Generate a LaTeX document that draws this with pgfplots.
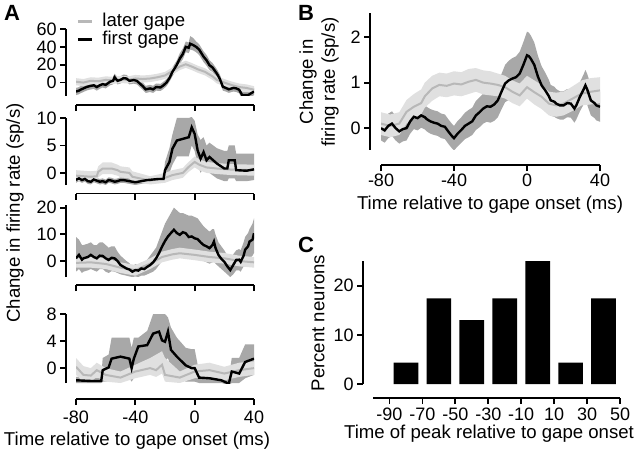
\documentclass[border=0pt]{standalone}
\usepackage{fontspec}
\setmainfont{Liberation Sans}
\usepackage{pgfplots}
\pgfplotsset{compat=1.18}
\usepgfplotslibrary{fillbetween}
\usepackage{pgfplotstable}

\definecolor{darkband}{gray}{0.66}
\definecolor{lightband}{gray}{0.88}
\definecolor{laterline}{gray}{0.72}

% ---------------- Panel A1 ----------------
\pgfplotstableread{
t m lo hi
-80 -10 -14 -6
-78 -9 -13 -5
-77 -8 -12 -4
-75 -6.5 -10.5 -2.5
-73 -5 -9 -1
-71 -4 -8 0
-68 -3 -7 1
-66 -5 -9 -1
-64 -3 -7 1
-62 -1.7 -5.5 2
-60 -2.5 -6.5 1.5
-57 1 -3 5
-55 2 -2 6
-54 6 2 10
-52 2 -2 6
-50 3 -1 7
-48 5 1 9
-46 4.6 0.6 8.6
-44 2 -2 6
-41 2.8 -1.2 6.8
-39 2 -2 6
-37 -1 -5 3
-35 -4 -8 0
-33 -7.6 -11.6 -3.6
-30 -6.5 -10.5 -2.5
-28 -7.6 -11.6 -3.6
-26 -5 -9 -1
-23 -5.4 -9.4 -1.4
-21 -3 -7 1
-19 0 -4 4
-17 5 1 9
-15 12 7 17
-12 20 15 25
-10 27 21 33
-8 32 26 38
-6 40 34 46
-4 39 33 45
-3 43.5 37 52
-1 42 36 50
1 40 34 46
3 37 31 43
6 29 23 35
8 25 19 31
10 19.4 14 25
12 17 12 22
15 10 5 15
17 4 0 9
19 -4.6 -9 0
21 -6 -10 -2
23 -7.5 -11.5 -3.5
26 -6 -10 -2
28 -6.5 -10.5 -2.5
30 -8 -12 -4
32 -14 -18 -10
36 -14 -18 -10
38 -12 -16 -8
40 -10 -14 -6
}\aFirstA
\pgfplotstableread{
t m lo hi
-80 1 -3 5
-75 0 -4 4
-70 2 -2 6
-65 1.5 -2.5 5.5
-60 3 -1 7
-55 2.5 -1.5 6.5
-50 3.5 -0.5 7.5
-45 3 -1 7
-40 4.6 0.6 8.6
-35 4 0 8
-30 4.6 0.6 8.6
-25 6 2 10
-20 8 4 12
-15 13 9 17
-10 18 14 22
-6 20.5 16.5 24.5
-2 18 14 22
2 15 11 19
7 12 8 16
12 7 3 11
15 3 -1 7
20 0 -4 4
25 -2.8 -6.8 1.2
30 -5 -9 -1
35 -6 -10 -2
40 -8 -12 -4
}\aLaterA

% ---------------- Panel A2 ----------------
\pgfplotstableread{
t m lo hi
-80 -1.25 -1.8 -0.6
-78 -1.0 -1.5 -0.4
-76 -1.3 -1.8 -0.8
-74 -1.1 -1.6 -0.6
-72 -1.5 -2 -1
-70 -1.6 -2.1 -1.1
-68 -1.2 -1.7 -0.7
-66 -1.4 -1.9 -0.9
-64 -1.6 -2.1 -1.1
-62 -1.5 -2 -1
-60 -1.7 -2.2 -1.2
-58 -1.3 -1.8 -0.8
-56 -1.4 -1.9 -0.9
-54 -1.6 -2.1 -1.1
-52 -1.5 -2 -1
-50 -1.3 -1.8 -0.8
-48 -1.3 -1.8 -0.8
-46 -1.4 -1.9 -0.9
-44 -1.5 -2 -1
-42 -1.6 -2.1 -1.1
-40 -1.7 -2.2 -1.2
-38 -1.6 -2.1 -1.1
-36 -1.5 -2 -1
-32 -1.3 -1.8 -0.8
-28 -1.2 -1.7 -0.7
-24 -1.1 -1.6 -0.6
-21 -1.1 -1.6 -0.6
-20 0.5 -0.8 2
-17 2 0 4.5
-15 4.4 1.5 7
-12 5.9 3 10
-8 6.2 3 10
-4 6.5 3 10
-2 8.3 5 10.2
0 7.1 4 9.5
2 4.1 1.5 7
4 2.6 0 6
6 3.8 1 6.5
8 2.3 0 5
10 2.9 0 5.5
15 1.7 -1 4.5
20 0.8 -1.5 4
22 0.8 -1.5 4
23 2.3 -1 5
27 2.3 -1 5
28 0.5 -1.5 3.5
35 0.4 -1.5 3.5
40 0.65 -1.3 3.5
}\aFirstB
\pgfplotstableread{
t m lo hi
-80 -0.5 -1.4 0.5
-70 -0.7 -1.6 0.3
-66 -0.6 -1.5 0.4
-65 0.2 -0.8 1.2
-62 0.8 -0.2 1.9
-56 0.8 -0.2 1.9
-52 0.5 -0.5 1.5
-50 0.2 -0.8 1.2
-44 0 -1 1
-42 -0.7 -1.6 0.3
-30 -1.4 -2.1 -0.6
-20 -0.9 -1.8 0
-15 -0.4 -1.3 0.5
-8 0 -0.9 0.9
-4 1.1 0.2 2
0 2 1 3
3 1.5 0.5 2.5
8 1 0 2
15 0.8 -0.2 1.8
25 0.6 -0.4 1.6
40 0.5 -0.5 1.5
}\aLaterB

% ---------------- Panel A3 ----------------
\pgfplotstableread{
t m lo hi
-80 1 -4 9
-78 2.3 -3 8
-76 0.5 -4.5 6
-75 1 -4 6
-72 1.5 -3.5 6.5
-70 2.3 -3 7
-68 1.5 -3.5 6
-66 1 -4 6
-64 2 -3 7
-62 1.9 -3 7
-60 1 -4 6
-58 0.4 -4.5 5
-56 1.2 -3.8 5.5
-54 1 -4 5.5
-52 0 -4.5 3.5
-50 -1.5 -5 2
-46 -2.8 -5.5 0
-44 -3.2 -5.8 -0.8
-42 -4 -6 -2
-40 -3.4 -5.8 -1.2
-38 -3.6 -6 -1.5
-36 -2.8 -5.5 -0.5
-34 -3 -5.5 -0.5
-32 -2.2 -5 0.5
-30 -1.5 -4.5 2
-28 -0.5 -4 3.5
-26 1 -3 5
-24 3 -1.5 8
-22 5.4 0 11
-20 7.5 1.5 14
-18 9.2 3 16
-16 10.5 3.5 18
-14 11.7 4 20
-12 10.5 3.5 19
-10 9.8 3 18
-8 10.8 3.5 18
-6 10.4 3 17.5
-4 9 2 17
-2 9.2 2 17
0 8.5 1.5 16.5
2 8.2 1 16
4 7 0.5 14.5
6 6 0 13
8 5.5 -0.5 12
10 4.8 -1 11
12 6 -0.5 12
13 7.3 0 12
14 5 -1 10
16 2.3 -2 7
18 0.8 -3 5.5
20 -0.3 -4 4
22 -2 -5 2
24 -3.4 -6 0
26 -1.5 -5 2.5
28 0.4 -3.5 4
30 0.5 -3.5 4.5
31 -0.3 -4 4
33 2 -2 7
34 4.2 -1 9
36 5.5 0 10.5
37 7.3 1 12
39 8 2 14
40 10.4 3 16
}\aFirstC
\pgfplotstableread{
t m lo hi
-80 -0.7 -2.5 1.5
-70 -0.5 -2.5 1.5
-60 -1.1 -3 1
-50 -2.5 -4.5 -0.5
-40 -3.4 -5.5 -1.5
-30 -1 -3 1
-22 1.5 -0.5 3.5
-15 2.5 0.5 4.5
-10 2.9 1 5
0 2.3 0.3 4.3
10 1.5 -0.5 3.5
20 1 -1 3
30 0 -2 2
40 -0.5 -2.5 1.5
}\aLaterC

% ---------------- Panel A4 ----------------
\pgfplotstableread{
t m lo hi
-80 -1.8 -2.2 -1.3
-70 -1.9 -2.2 -1.4
-63 -1.9 -2.2 -1.4
-62 -0.3 -2 1.5
-58 0.1 -2 2
-56 1.4 -1.5 4.5
-50 1.7 -1.5 4.5
-44 1.4 -1.5 4.5
-42.5 0 -2 3
-41 1.4 -1.5 4.5
-38 3.2 -0.5 4.5
-32 3.4 0 5.5
-28 5.1 1.5 8
-24 5.4 1.5 8
-22 4.1 1 8
-20 3.9 1 8
-18 5.4 1.5 7.5
-16 2.7 0 6
-12 1.7 -1 4.5
-6 0.4 -2 3
-2 0 -2 2.8
0 0 -2 2.8
3 -1.4 -2.2 -0.6
10 -1.5 -2.2 -0.7
18 -1.8 -2.2 -1
23 -2.3 -2.5 -1.5
25 -0.5 -2.2 1.5
30 -0.8 -2.2 1.5
34 0.9 -1.5 3.5
40 1.4 -1 3.5
}\aFirstD
\pgfplotstableread{
t m lo hi
-80 0.2 -1 1.5
-75 -1 -2 0.3
-70 -1.1 -2 0
-66 -0.3 -1.3 0.8
-60 -1 -2 0
-50 -1.4 -2.2 -0.5
-40 -0.5 -1.5 0.5
-30 0 -1 1.5
-26 -0.3 -1.3 2
-22 0.5 -0.8 2.5
-20 -1 -2 1.5
-10 -1.4 -2.2 -0.5
0 -0.5 -1.5 0.5
10 -0.3 -1.3 0.8
20 -0.8 -1.8 0.2
30 -0.3 -1.3 0.8
40 0 -1 1
}\aLaterD

% ---------------- Panel B ----------------
\pgfplotstableread{
t m lo hi
-80 0 -0.27 0.3
-78 -0.05 -0.32 0.22
-76 0.05 -0.22 0.32
-74 0.1 -0.17 0.37
-72 0.0 -0.27 0.27
-70 -0.07 -0.34 0.2
-68 -0.02 -0.29 0.25
-66 0 -0.27 0.27
-64 0.15 -0.12 0.42
-62 0.25 -0.02 0.52
-60 0.22 -0.05 0.49
-58 0.28 0.01 0.55
-56 0.24 -0.03 0.51
-55 0.2 -0.07 0.47
-53 0.15 -0.12 0.42
-51 0.12 -0.15 0.39
-49 0.1 -0.17 0.37
-47 0.05 -0.22 0.32
-45 0.03 -0.24 0.3
-43 -0.08 -0.35 0.19
-41 -0.18 -0.45 0.09
-40 -0.22 -0.49 0.05
-38 -0.12 -0.4 0.16
-36 -0.04 -0.32 0.24
-34 0.05 -0.24 0.34
-32 0.1 -0.2 0.4
-30 0.15 -0.15 0.45
-28 0.28 -0.04 0.6
-26 0.35 0.02 0.68
-24 0.43 0.1 0.76
-22 0.48 0.14 0.82
-20 0.47 0.12 0.82
-18 0.52 0.16 0.88
-16 0.61 0.24 0.98
-14 0.8 0.41 1.19
-12 0.98 0.57 1.39
-10 1.05 0.62 1.48
-8 1.09 0.64 1.54
-6 1.12 0.66 1.58
-4 1.2 0.72 1.68
-2 1.39 0.89 1.89
0 1.6 1.08 2.12
1 1.58 1.06 2.1
2 1.53 1.02 2.04
4 1.39 0.9 1.88
6 1.13 0.67 1.59
8 0.94 0.52 1.36
10 0.83 0.44 1.22
12 0.7 0.34 1.06
13 0.61 0.27 0.95
15 0.58 0.25 0.91
16 0.54 0.22 0.86
18 0.5 0.19 0.81
20 0.5 0.19 0.81
22 0.55 0.24 0.86
24 0.54 0.23 0.85
26 0.43 0.12 0.74
27 0.5 0.19 0.81
29 0.69 0.37 1.01
31 0.85 0.52 1.18
32 0.94 0.6 1.28
33 0.85 0.51 1.19
35 0.61 0.28 0.94
37 0.55 0.22 0.88
38 0.5 0.17 0.83
40 0.47 0.14 0.8
}\bFirst
\pgfplotstableread{
t m lo hi
-80 0.1 -0.15 0.35
-75 0.05 -0.2 0.3
-70 0.1 -0.15 0.35
-66 0.36 0.1 0.62
-62 0.47 0.2 0.75
-58 0.55 0.3 0.85
-56 0.7 0.45 1.0
-52 0.87 0.6 1.15
-48 0.95 0.7 1.22
-44 0.93 0.68 1.2
-40 0.98 0.72 1.25
-36 0.96 0.7 1.23
-32 1.02 0.75 1.3
-28 1.06 0.8 1.32
-24 1.0 0.74 1.27
-20 0.98 0.72 1.25
-16 0.95 0.7 1.2
-12 0.9 0.65 1.15
-8 0.8 0.55 1.05
-4 0.72 0.48 0.98
0 0.9 0.65 1.15
4 0.79 0.52 1.05
8 0.69 0.42 0.95
12 0.54 0.28 0.8
16 0.5 0.25 0.78
20 0.54 0.28 0.8
25 0.65 0.38 0.92
30 0.76 0.5 1.05
35 0.8 0.52 1.1
40 0.83 0.55 1.12
}\bLater

\pgfplotsset{
  panel/.style={
    scale only axis, anchor=south west,
    axis x line*=bottom, axis y line*=left,
    tick align=outside, major tick length=3pt,
    every tick/.style={black, line width=0.9pt},
    axis line style={line width=0.9pt},
    tick label style={font=\fontsize{9}{10}\selectfont, inner sep=1.5pt},
    /pgf/number format/assume math mode=true,
    clip=true,
  },
  apanel/.style={panel, xmin=-80, xmax=40, xtick={-80,-40,0,40}, width=89pt},
}

% #1 prefix, #2 first table, #3 later table
\newcommand{\bands}[3]{%
  \addplot[name path=#1fu, draw=none, forget plot] table[x=t,y=hi] {#2};
  \addplot[name path=#1fl, draw=none, forget plot] table[x=t,y=lo] {#2};
  \addplot[fill=darkband, draw=none, forget plot] fill between[of=#1fu and #1fl];
  \addplot[name path=#1lu, draw=none, forget plot] table[x=t,y=hi] {#3};
  \addplot[name path=#1ll, draw=none, forget plot] table[x=t,y=lo] {#3};
  \addplot[fill=lightband, draw=none, forget plot] fill between[of=#1lu and #1ll];
  \addplot[laterline, line width=1pt, forget plot] table[x=t,y=m] {#3};
  \addplot[black, line width=1.2pt, forget plot] table[x=t,y=m] {#2};
}

\begin{document}
\begin{tikzpicture}

% A1
\begin{axis}[apanel, at={(38pt,177pt)}, height=33.5pt,
  ymin=-15, ymax=60, ytick={0,20,40,60}, xticklabels={},
  axis x line shift=4.5pt, axis y line shift=5pt,
  legend style={draw=none, fill=none, at={(axis description cs:0.0,1.27)}, anchor=north west,
    font=\fontsize{9.3}{9}\selectfont, inner sep=0pt, row sep=-1.5pt, column sep=3.5pt,
    nodes={inner sep=1pt}},
  legend cell align=left,
  legend image code/.code={\draw[#1] (0pt,0pt) -- (7pt,0pt);},
]
\addlegendimage{laterline, line width=1.5pt}
\addlegendentry{later gape}
\addlegendimage{black, line width=1.5pt}
\addlegendentry{first gape}
\bands{a}{\aFirstA}{\aLaterA}
\end{axis}

% A2
\begin{axis}[apanel, at={(38pt,132.5pt)}, height=33.5pt,
  ymin=-2.2, ymax=10, ytick={0,5,10}, xticklabels={},
  axis x line shift=4.25pt, axis y line shift=5pt]
\bands{b}{\aFirstB}{\aLaterB}
\end{axis}

% A3
\begin{axis}[apanel, at={(38pt,86.5pt)}, height=36pt,
  ymin=-6, ymax=21, ytick={0,10,20}, xticklabels={},
  axis x line shift=4pt, axis y line shift=5pt]
\bands{c}{\aFirstC}{\aLaterC}
\end{axis}

% A4
\begin{axis}[apanel, at={(38pt,33.5pt)}, height=34.5pt,
  ymin=-2.2, ymax=8, ytick={0,4,8},
  axis x line shift=8pt, axis y line shift=5pt,
  xticklabel style={yshift=-1.5pt}]
\bands{d}{\aFirstD}{\aLaterD}
\end{axis}

% B
\begin{axis}[panel, at={(190.5pt,150pt)}, width=109.5pt, height=68.5pt,
  xmin=-80, xmax=40, xtick={-80,-40,0,40},
  ymin=-0.48, ymax=2.53, ytick={0,1,2},
  axis x line shift=7.5pt, axis y line shift=5.5pt]
\bands{e}{\bFirst}{\bLater}
\end{axis}

% C
\begin{axis}[panel, at={(186.5pt,33pt)}, width=123.5pt, height=61.5pt,
  xmin=-100, xmax=50, xtick={-90,-70,...,50},
  ymin=0, ymax=25, ytick={0,10,20},
  axis x line shift=7pt, axis y line shift=5pt,
  xticklabel style={yshift=-1.5pt, inner sep=0.5pt}]
\addplot[ybar, bar width=15, fill=black, draw=none] coordinates {
(-80,4.35) (-60,17.4) (-40,13.0) (-20,17.4) (0,25) (20,4.35) (40,17.4)};
\end{axis}

% labels
\begin{scope}[font=\fontsize{9.3}{11}\selectfont]
\node[rotate=90] at (7.5pt,118.5pt) {Change in firing rate (sp/s)};
\node at (68.5pt,4.5pt) {Time relative to gape onset (ms)};
\node[rotate=90, align=center, inner sep=0pt] at (159.5pt,184pt) {Change in\\firing rate (sp/s)};
\node at (245pt,122.5pt) {Time relative to gape onset (ms)};
\node[rotate=90] at (159pt,63.5pt) {Percent neurons};
\node[inner sep=0.5pt] at (244.5pt,8pt) {Time of peak relative to gape onset};
\end{scope}
\begin{scope}[font=\fontsize{11}{12}\selectfont\bfseries]
\node at (6pt,218.5pt) {A};
\node at (153pt,218.5pt) {B};
\node at (153pt,102.5pt) {C};
\end{scope}
\pgfresetboundingbox
\path[use as bounding box] (0,0) rectangle (320pt,225pt);
\end{tikzpicture}
\end{document}
